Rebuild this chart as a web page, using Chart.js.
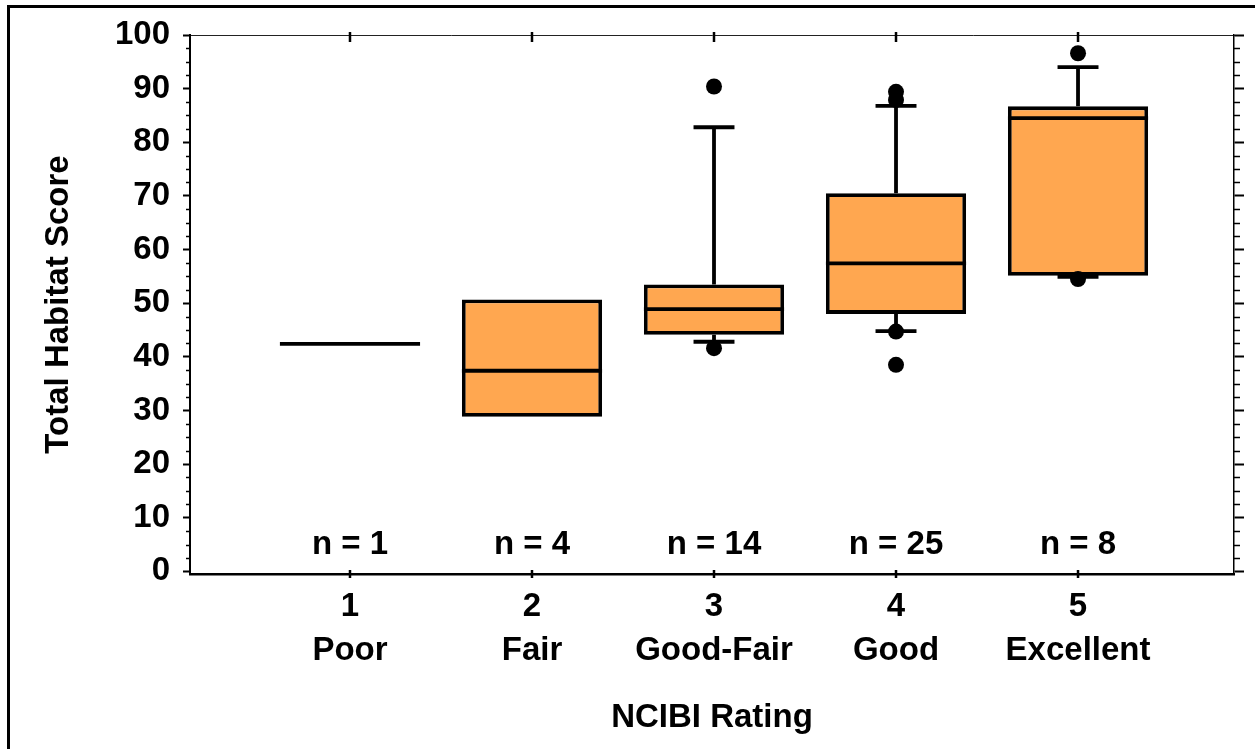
<!DOCTYPE html>
<html>
<head>
<meta charset="utf-8">
<title>Total Habitat Score by NCIBI Rating</title>
<script src="https://cdn.jsdelivr.net/npm/chart.js@4.4.1/dist/chart.umd.min.js"></script>
<style>
  html, body { margin: 0; padding: 0; background: #fff; overflow: hidden; }
  #wrap { position: relative; width: 1255px; height: 749px; }
  #chart { position: absolute; left: 0; top: 0; }
  #frame {
    position: absolute; left: 7px; top: 5px; width: 1400px; height: 900px;
    border-left: 3px solid #000; border-top: 3px solid #000; pointer-events: none;
  }
</style>
</head>
<body>
<div id="wrap">
  <canvas id="chart" width="1255" height="749"></canvas>
  <div id="frame"></div>
</div>
<script>
// ---- data -------------------------------------------------------------
const categories   = [1, 2, 3, 4, 5];
const ratingNames  = ['Poor', 'Fair', 'Good-Fair', 'Good', 'Excellent'];
const sampleSizes  = [1, 4, 14, 25, 8];

// box-plot statistics per NCIBI rating (null = not drawn)
const lowerQuartile = [null, 28.8, 44.1, 48.0, 55.1];
const medians       = [42.4, 37.4, 48.9, 57.4, 84.5];
const upperQuartile = [null, 50.7, 53.5, 70.5, 86.7];
const whiskerLow    = [null, null, 42.8, 44.8, 54.9];
const whiskerHigh   = [null, null, 82.8, 86.8, 94.0];
const outliers      = [[], [], [90.4, 41.6], [89.4, 87.9, 44.7, 38.5], [96.6, 54.5]];

const yTickValues = [0, 10, 20, 30, 40, 50, 60, 70, 80, 90, 100];
const yMinorStep  = 2.5;

// ---- styling / layout --------------------------------------------------
const FONT = "'Liberation Sans', Arial, Helvetica, sans-serif";
const FONT_SIZE = 33;
const BOX_FILL = '#FFA750';
const BOX_WIDTH = 0.77;     // in rating units
const CAP_WIDTH = 0.225;    // whisker cap, rating units
const LINE_W = 3.8;
const X_MIN = 0.121, X_MAX = 5.857;
const Y_MIN = -0.5,  Y_MAX = 100;
const PLOT_LEFT = 190, PLOT_RIGHT = 1234, PLOT_TOP = 35, PLOT_BOTTOM = 574;
const CANVAS_W = 1255, CANVAS_H = 749;

Chart.defaults.font.family = FONT;
Chart.defaults.color = '#000';

const boxData = [];
categories.forEach((c, i) => {
  if (lowerQuartile[i] !== null && upperQuartile[i] !== null) {
    boxData.push({ x: c, y: [lowerQuartile[i], upperQuartile[i]] });
  }
});
const outlierPoints = [];
categories.forEach((c, i) => outliers[i].forEach(v => outlierPoints.push({ x: c, y: v })));

const setTicks = values => scale => { scale.ticks = values.map(v => ({ value: v })); };

// whiskers, caps, medians, sample sizes and the extra tick marks
const boxPlotMarks = {
  id: 'boxPlotMarks',
  beforeDatasetsDraw(chart) {
    const { ctx, scales: { x, y } } = chart;
    ctx.save();
    ctx.strokeStyle = '#000';
    ctx.lineWidth = LINE_W;
    categories.forEach((c, i) => {
      const cx = x.getPixelForValue(c);
      const capL = x.getPixelForValue(c - CAP_WIDTH / 2);
      const capR = x.getPixelForValue(c + CAP_WIDTH / 2);
      [[upperQuartile[i], whiskerHigh[i]], [lowerQuartile[i], whiskerLow[i]]].forEach(([from, to]) => {
        if (from === null || to === null) return;
        const y0 = y.getPixelForValue(from), y1 = y.getPixelForValue(to);
        ctx.beginPath();
        ctx.moveTo(cx, y0); ctx.lineTo(cx, y1);
        ctx.moveTo(capL, y1); ctx.lineTo(capR, y1);
        ctx.stroke();
      });
    });
    ctx.restore();
  },
  afterDatasetDraw(chart, args) {
    if (args.meta.type !== 'bar') return;
    const { ctx, scales: { x, y } } = chart;
    ctx.save();
    ctx.strokeStyle = '#000';
    ctx.lineWidth = LINE_W;
    categories.forEach((c, i) => {
      const left = x.getPixelForValue(c - BOX_WIDTH / 2);
      const right = x.getPixelForValue(c + BOX_WIDTH / 2);
      const my = y.getPixelForValue(medians[i]);
      ctx.beginPath();
      ctx.moveTo(left, my); ctx.lineTo(right, my);
      ctx.stroke();
    });
    ctx.restore();
  },
  afterDraw(chart) {
    const { ctx, chartArea: a, scales: { x, y } } = chart;
    ctx.save();
    ctx.strokeStyle = '#000';
    // minor ticks on both value axes
    ctx.lineWidth = 1.5;
    for (let v = 0; v <= Y_MAX; v += yMinorStep) {
      if (v % 10 === 0) continue;
      const py = Math.round(y.getPixelForValue(v)) + 0.5;
      ctx.beginPath();
      ctx.moveTo(a.left - 4, py); ctx.lineTo(a.left, py);
      ctx.moveTo(a.right, py); ctx.lineTo(a.right + 6, py);
      ctx.stroke();
    }
    // category ticks crossing the top and bottom axis lines
    ctx.lineWidth = 2.5;
    categories.forEach(c => {
      const px = x.getPixelForValue(c);
      ctx.beginPath();
      ctx.moveTo(px, a.bottom - 4); ctx.lineTo(px, a.bottom + 4);
      ctx.moveTo(px, a.top - 3); ctx.lineTo(px, a.top + 7);
      ctx.stroke();
    });
    // sample sizes
    ctx.fillStyle = '#000';
    ctx.font = 'bold ' + FONT_SIZE + 'px ' + FONT;
    ctx.textAlign = 'center';
    ctx.textBaseline = 'middle';
    categories.forEach((c, i) => {
      ctx.fillText('n = ' + sampleSizes[i], x.getPixelForValue(c), y.getPixelForValue(5));
    });
    ctx.restore();
  }
};

new Chart(document.getElementById('chart'), {
  type: 'bar',
  data: {
    datasets: [
      {
        type: 'scatter',
        label: 'Outliers',
        data: outlierPoints,
        xAxisID: 'x', yAxisID: 'y',
        pointRadius: 8,
        pointHoverRadius: 8,
        pointBackgroundColor: '#000',
        pointBorderWidth: 0
      },
      {
        type: 'bar',
        label: 'Interquartile range',
        data: boxData,
        xAxisID: 'x', yAxisID: 'y',
        backgroundColor: BOX_FILL,
        borderColor: '#000',
        borderWidth: LINE_W,
        borderSkipped: false,
        barPercentage: BOX_WIDTH,
        categoryPercentage: 1
      }
    ]
  },
  options: {
    responsive: false,
    animation: false,
    events: [],
    layout: { padding: 0 },
    plugins: { legend: { display: false }, tooltip: { enabled: false } },
    scales: {
      x: {
        type: 'linear', position: 'bottom', min: X_MIN, max: X_MAX, bounds: 'data', offset: false,
        afterBuildTicks: setTicks(categories),
        afterFit: s => { s.height = CANVAS_H - PLOT_BOTTOM; },
        grid: { drawOnChartArea: false, drawTicks: false, offset: false },
        border: { display: true, color: '#000', width: 2.5 },
        ticks: {
          autoSkip: false, maxRotation: 0, padding: 11,
          font: { size: FONT_SIZE, weight: 'bold', lineHeight: 44 / FONT_SIZE },
          callback: v => [String(v), ratingNames[categories.indexOf(v)]]
        },
        title: {
          display: true, text: 'NCIBI Rating',
          font: { size: FONT_SIZE, weight: 'bold' }, padding: { top: 0, bottom: 11 }
        }
      },
      xTop: {
        type: 'linear', position: 'top', min: X_MIN, max: X_MAX, bounds: 'data', offset: false,
        afterFit: s => { s.height = PLOT_TOP; },
        grid: { drawOnChartArea: false, drawTicks: false },
        border: { display: true, color: '#222', width: 1 },
        ticks: { display: false }
      },
      y: {
        type: 'linear', position: 'left', min: Y_MIN, max: Y_MAX, bounds: 'data',
        afterBuildTicks: setTicks(yTickValues),
        afterFit: s => { s.width = PLOT_LEFT; },
        grid: { drawOnChartArea: false, drawTicks: true, tickLength: 7, tickWidth: 2, tickColor: '#000' },
        border: { display: true, color: '#000', width: 2 },
        ticks: { padding: 13, autoSkip: false, font: { size: FONT_SIZE, weight: 'bold' }, callback: v => String(v) },
        title: {
          display: true, text: 'Total Habitat Score',
          font: { size: FONT_SIZE, weight: 'bold' }, padding: { top: 39, bottom: 0 }
        }
      },
      yRight: {
        type: 'linear', position: 'right', min: Y_MIN, max: Y_MAX, bounds: 'data',
        afterBuildTicks: setTicks(yTickValues),
        afterFit: s => { s.width = CANVAS_W - PLOT_RIGHT; },
        grid: { drawOnChartArea: false, drawTicks: true, tickLength: 10, tickWidth: 2, tickColor: '#000' },
        border: { display: true, color: '#000', width: 1.5 },
        ticks: { display: false }
      }
    }
  },
  plugins: [boxPlotMarks]
});
</script>
</body>
</html>
